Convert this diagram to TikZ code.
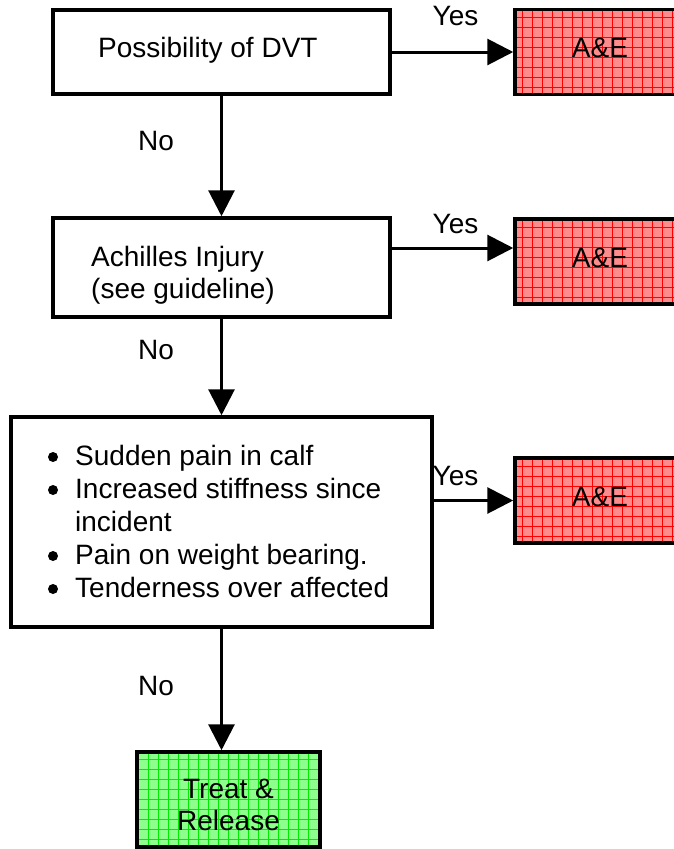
\documentclass[tikz,border=0pt]{standalone}
\usepackage{fontspec}
\setmainfont{Liberation Sans}
\usetikzlibrary{arrows.meta}
\definecolor{aepink}{RGB}{255,140,140}
\definecolor{aered}{RGB}{255,0,0}
\definecolor{trgreen}{RGB}{140,255,140}
\definecolor{trline}{RGB}{0,235,0}
\tikzset{
  txt/.style={font=\fontsize{28pt}{32pt}\selectfont, inner sep=0pt},
  flowbox/.style={draw, line width=3.5pt, fill=white, inner sep=0pt},
  gridded/.style 2 args={flowbox, fill=#1,
    path picture={\draw[#2, line width=.7pt]
      (path picture bounding box.south west) grid[step=10pt]
      (path picture bounding box.north east);}},
  aebox/.style={txt, minimum width=170pt, minimum height=85pt, text depth=8pt},
  arr/.style={line width=3pt, -{Triangle[length=26pt,width=26pt]}},
}
\begin{document}
\begin{tikzpicture}[x=1pt,y=-1pt]
\useasboundingbox (0,0) rectangle (674,849);
\node[flowbox, minimum width=337pt, minimum height=84pt] (dvt) at (221.5,52) {};
\node[flowbox, minimum width=337pt, minimum height=99pt] (achilles) at (221.5,267.5) {};
\node[flowbox, minimum width=421pt, minimum height=210pt] (sympt) at (221.5,522) {};
\node[gridded={trgreen}{trline}, minimum width=183pt, minimum height=95pt] (treat) at (228.5,799.5) {};
\node[gridded={aepink}{aered}, aebox] (ae1) at (600,52) {A\&E};
\node[gridded={aepink}{aered}, aebox] (ae2) at (600,261.5) {A\&E};
\node[gridded={aepink}{aered}, aebox] (ae3) at (600,500.5) {A\&E};
% texts
\node[txt, anchor=base west] (dvttxt) at (98,57) {Possibility of DVT};
\node[txt, anchor=base west] (achtxt) at (91,266)
  {\begin{tabular}[t]{@{}l@{}}Achilles Injury\\(see guideline)\end{tabular}};
\node[font=\fontsize{28pt}{33pt}\selectfont, inner sep=0pt, anchor=base west] (symptxt) at (75,465)
  {\begin{tabular}[t]{@{}l@{}}
   Sudden pain in calf\\
   Increased stiffness since\\
   incident\\
   Pain on weight bearing.\\
   Tenderness over affected
   \end{tabular}};
\fill (53,457) circle[radius=5pt]
(53,490) circle[radius=5pt]
(53,556) circle[radius=5pt]
(53,589) circle[radius=5pt];
\node[txt, anchor=base] (treattxt) at (228.5,798)
  {\begin{tabular}[t]{@{}c@{}}Treat \&\\Release\end{tabular}};
\node[txt, anchor=base] (yes1) at (455.5,25) {Yes};
\node[txt, anchor=base] (yes2) at (455.5,233) {Yes};
\node[txt, anchor=base] (yes3) at (455.5,485) {Yes};
\node[txt, anchor=base] (no1) at (156,150) {No};
\node[txt, anchor=base] (no2) at (156,359) {No};
\node[txt, anchor=base] (no3) at (156,695) {No};
% connectors
\coordinate (row2) at (0,248);
\draw[arr] (dvt) -- (ae1);
\draw[arr] (achilles.east |- row2) -- (ae2.west |- row2);
\draw[arr] (sympt.east |- ae3) -- (ae3);
\draw[arr] (dvt) -- (achilles);
\draw[arr] (achilles) -- (sympt);
\draw[arr] (sympt.south) -- (sympt.south |- treat.north);
\end{tikzpicture}
\end{document}
